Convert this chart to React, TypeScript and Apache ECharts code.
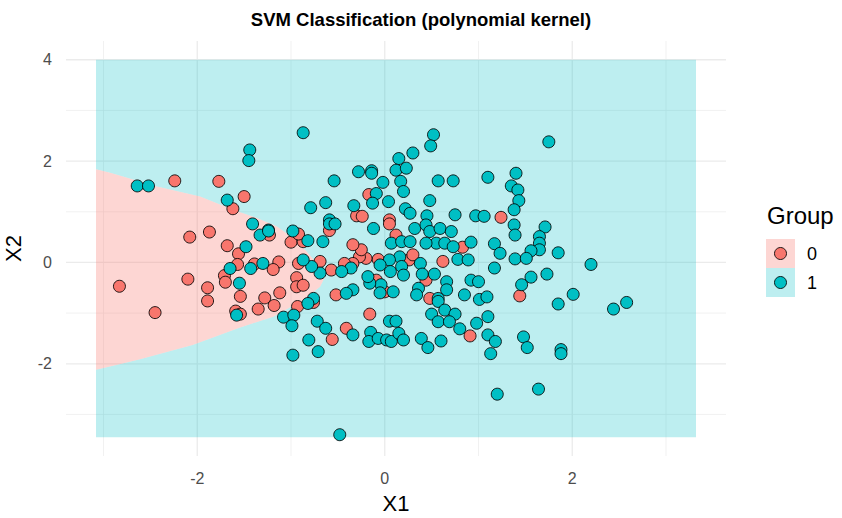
import React, { useEffect, useRef } from "react";
import * as echarts from "echarts";

const TITLE = "SVM Classification (polynomial kernel)";
const X_NAME = "X1";
const Y_NAME = "X2";
const LEGEND_TITLE = "Group";
const GROUPS = ["0", "1"];
const COLORS = ["#F8766D", "#00BFC4"];
const TILE_COLORS = ["rgba(248,118,109,0.3)", "rgba(0,191,196,0.26)"];

const X_LABELS = [-2, 0, 2];
const Y_LABELS = [-2, 0, 2, 4];
const X_MAJOR = [-2, 0, 2];
const X_MINOR = [-3, -1, 1, 3];
const Y_MAJOR = [-2, 0, 2, 4];
const Y_MINOR = [-3, -1, 1, 3];
const X_RANGE = [-3.4, 3.64];
const Y_RANGE = [-3.82, 4.37];

// prediction grid extent
const GRID_X = [-3.08, 3.32];
const GRID_Y = [-3.45, 4.0];

// class-0 region boundary (upper edge from left to tip, lower edge from tip back to left)
const UPPER_EDGE: number[][] = [
  [-3.08, 1.84], [-2.93, 1.77], [-2.43, 1.5], [-1.97, 1.3], [-1.62, 1.04],
  [-1.37, 0.88], [-1.15, 0.71], [-1.01, 0.52], [-0.85, 0.25], [-0.71, -0.05], [-0.64, -0.29],
];
const LOWER_EDGE: number[][] = [
  [-0.69, -0.48], [-0.87, -0.74], [-1.19, -1.07], [-1.55, -1.29], [-2.05, -1.63],
  [-2.61, -1.91], [-2.83, -2.01], [-3.08, -2.12],
];

const GROUP0: number[][] = [
  [-2.83, -0.47], [-2.45, -0.99], [-2.24, 1.61], [-1.77, 1.6], [-1.62, 1.06], [-1.5, 1.3],
  [-2.08, 0.5], [-1.87, 0.6], [-2.1, -0.33], [-1.89, -0.5], [-1.89, -0.76], [-1.68, 0.33],
  [-1.56, 0.17], [-1.57, -0.04], [-1.71, -0.26], [-1.7, -0.39], [-1.54, -0.67], [-1.59, -0.96],
  [-1.54, -1.02], [-1.23, 0.54], [-1.0, 0.4], [-0.87, 0.41], [-0.92, 0.56], [-1.39, -0.03],
  [-1.13, 0.01], [-1.19, -0.14], [-1.28, -0.7], [-1.12, -0.6], [-1.35, -0.92], [-1.18, -0.85],
  [-0.94, -0.3], [-0.94, -0.48], [-0.87, -0.45], [-0.93, -0.87], [-0.92, -0.02],
  [-0.17, 1.34], [-0.3, 0.92], [-0.24, 0.91], [0.05, 0.84], [-0.59, 0.63], [0.05, 0.76],
  [0.12, 0.54], [0.83, 0.3], [0.62, 0.02], [0.26, 0.05], [0.3, 0.15], [0.44, -0.35],
  [0.48, -0.71], [-0.09, -0.35], [0.0, -0.58], [-0.52, -0.64], [-0.07, 0.06], [-0.2, 0.08],
  [-0.27, 0.11], [-0.25, 0.25], [-0.34, 0.35], [-0.34, -0.02], [-0.43, -0.02], [-0.57, -0.15],
  [-0.69, 0.02], [-0.76, -0.79], [-0.56, -1.52], [-0.41, -1.3], [-0.16, -1.02], [0.91, -1.45],
  [1.24, 0.89], [1.44, -0.66],
];

const GROUP1: number[][] = [
  [-2.64, 1.51], [-2.52, 1.51], [-1.68, 1.23], [-1.44, 2.22], [-1.45, 2.01], [-1.41, 0.76],
  [-1.24, 0.64], [-0.98, 0.62], [-0.87, 2.56], [-1.48, 0.31], [-1.65, -0.12], [-1.55, -0.41],
  [-1.58, -1.04], [-1.33, 0.54], [-1.24, 0.62], [-1.43, -0.12], [-1.3, -0.02], [-1.08, -1.08],
  [-0.97, -1.04], [-0.99, -1.25], [0.52, 2.52], [0.49, 2.3], [0.3, 2.16], [0.15, 2.05],
  [0.12, 1.82], [0.23, 1.86], [-0.28, 1.79], [-0.14, 1.81], [-0.14, 1.76], [0.17, 1.6],
  [0.57, 1.61], [0.73, 1.61], [1.1, 1.68], [-0.54, 1.61], [-0.02, 1.58], [0.2, 1.4],
  [-0.09, 1.36], [-0.13, 1.17], [0.04, 1.2], [0.48, 1.22], [-0.79, 1.08], [-0.63, 1.18],
  [-0.33, 1.12], [0.22, 1.06], [0.27, 0.97], [0.45, 0.92], [0.75, 0.94], [0.97, 0.92],
  [1.06, 0.91], [-0.59, 0.84], [-0.82, 0.43], [-0.66, 0.41], [-0.59, 0.76], [-0.53, 0.76],
  [-0.12, 0.67], [0.07, 0.38], [0.18, 0.41], [0.27, 0.41], [0.32, 0.67], [0.44, 0.74],
  [0.48, 0.61], [0.59, 0.67], [0.71, 0.61], [0.55, 0.38], [0.44, 0.38], [0.64, 0.38],
  [0.73, 0.31], [0.92, 0.4], [0.78, 0.06], [0.89, 0.05], [0.38, -0.02], [0.16, 0.11],
  [0.05, 0.05], [-0.05, -0.05], [0.06, -0.18], [0.18, -0.08], [0.2, -0.25], [0.4, -0.23],
  [0.53, -0.23], [0.66, -0.38], [0.92, -0.35], [1.0, -0.38], [0.36, -0.51], [0.66, -0.54],
  [0.57, -0.71], [0.85, -0.64], [0.09, -0.58], [-0.04, -0.44], [-0.05, -0.6], [-0.16, -0.41],
  [-0.34, -0.54], [-0.41, -0.61], [-0.18, -0.28], [-0.36, -0.11], [-0.46, -0.18], [-0.69, -0.21],
  [-0.78, -0.08], [-0.87, 0.05], [-0.76, -0.71], [-0.98, -1.83], [-0.82, -0.81], [-0.72, -1.16],
  [-0.63, -1.3], [-0.81, -1.53], [-0.71, -1.76], [-0.34, -1.43], [-0.15, -1.38], [-0.17, -1.56],
  [-0.07, -1.5], [0.02, -1.53], [0.07, -1.56], [0.05, -1.16], [0.12, -1.16], [0.15, -1.4],
  [0.2, -1.53], [0.34, -0.64], [0.57, -0.77], [0.5, -1.02], [0.64, -0.94], [0.75, -1.02],
  [0.57, -1.17], [0.69, -1.17], [0.39, -1.5], [0.46, -1.68], [0.6, -1.55], [0.8, -1.31],
  [0.98, -1.2], [1.01, -0.73], [1.1, -1.07], [1.1, -1.43], [-0.48, -3.4], [1.75, 2.38],
  [1.4, 1.76], [1.35, 1.51], [1.42, 1.43], [1.43, 1.22], [1.38, 1.04], [1.38, 0.74],
  [1.71, 0.7], [1.39, 0.54], [1.65, 0.51], [1.65, 0.38], [1.65, 0.25], [1.56, 0.23],
  [1.17, 0.37], [1.23, 0.18], [1.39, 0.07], [1.51, 0.08], [1.85, 0.19], [2.2, -0.04],
  [1.17, -0.11], [1.56, -0.29], [1.73, -0.23], [1.46, -0.44], [1.09, -0.68], [2.01, -0.63],
  [1.85, -0.82], [2.58, -0.79], [2.44, -0.92], [1.18, -1.56], [1.13, -1.8], [1.48, -1.47],
  [1.52, -1.68], [1.88, -1.72], [1.88, -1.8], [1.2, -2.6], [1.64, -2.5],
];

const FONT = "Liberation Sans, Arial, Helvetica, sans-serif";

export default function App() {
  const ref = useRef<HTMLDivElement>(null);

  useEffect(() => {
    if (!ref.current) return;
    const chart = echarts.init(ref.current, null, { renderer: "svg" });

    const region0 = [...UPPER_EDGE, ...LOWER_EDGE];
    const region1 = [
      [GRID_X[0], GRID_Y[1]],
      [GRID_X[1], GRID_Y[1]],
      [GRID_X[1], GRID_Y[0]],
      [GRID_X[0], GRID_Y[0]],
      ...LOWER_EDGE.slice().reverse(),
      ...UPPER_EDGE.slice().reverse(),
    ];

    const gridSeries = (vals: number[], vertical: boolean, width: number) => ({
      type: "custom",
      silent: true,
      z: 0,
      data: vals.map((v) => (vertical ? [v, 0] : [0, v])),
      renderItem: (params: any, api: any) => {
        const v = api.value(vertical ? 0 : 1);
        const p1 = vertical ? api.coord([v, Y_RANGE[0]]) : api.coord([X_RANGE[0], v]);
        const p2 = vertical ? api.coord([v, Y_RANGE[1]]) : api.coord([X_RANGE[1], v]);
        return {
          type: "line",
          shape: { x1: p1[0], y1: p1[1], x2: p2[0], y2: p2[1] },
          style: { stroke: "#EBEBEB", lineWidth: width },
        };
      },
    });

    const regionSeries = (pts: number[][], color: string) => ({
      type: "custom",
      silent: true,
      z: 1,
      data: [[0, 0]],
      renderItem: (params: any, api: any) => ({
        type: "polygon",
        shape: { points: pts.map((p) => api.coord(p)) },
        style: { fill: color, stroke: null },
      }),
    });

    const pointSeries = (data: number[][], color: string, name: string) => ({
      type: "scatter",
      name,
      z: 3,
      data,
      symbol: "circle",
      symbolSize: 12,
      itemStyle: { color, borderColor: "rgba(0,0,0,0.85)", borderWidth: 1, opacity: 1 },
    });

    const legendX = 766;
    const keySize = 29;
    const legendTop = 239;

    chart.setOption({
      animation: false,
      backgroundColor: "#ffffff",
      title: {
        text: TITLE,
        left: "center",
        top: 5,
        textStyle: { fontFamily: FONT, fontSize: 18.5, fontWeight: "bold", color: "#000" },
      },
      grid: { left: 66, right: 116, top: 41, bottom: 62, outerBoundsMode: "none", containLabel: false },
      xAxis: {
        type: "value",
        min: X_RANGE[0],
        max: X_RANGE[1],
        axisLine: { show: false },
        axisTick: { show: false },
        splitLine: { show: false },
        axisLabel: {
          customValues: X_LABELS,
          color: "#4D4D4D",
          fontSize: 16,
          fontFamily: FONT,
          margin: 14,
        },
        name: X_NAME,
        nameLocation: "middle",
        nameGap: 36,
        nameTextStyle: { fontFamily: FONT, fontSize: 22, color: "#000" },
      },
      yAxis: {
        type: "value",
        min: Y_RANGE[0],
        max: Y_RANGE[1],
        axisLine: { show: false },
        axisTick: { show: false },
        splitLine: { show: false },
        axisLabel: {
          customValues: Y_LABELS,
          color: "#4D4D4D",
          fontSize: 16,
          fontFamily: FONT,
          margin: 14,
        },
        name: Y_NAME,
        nameLocation: "middle",
        nameGap: 42,
        nameRotate: 90,
        nameTextStyle: { fontFamily: FONT, fontSize: 22, color: "#000" },
      },
      series: [
        gridSeries(X_MINOR, true, 0.7),
        gridSeries(Y_MINOR, false, 0.7),
        gridSeries(X_MAJOR, true, 1.3),
        gridSeries(Y_MAJOR, false, 1.3),
        regionSeries(region1, TILE_COLORS[1]),
        regionSeries(region0, TILE_COLORS[0]),
        pointSeries(GROUP0, COLORS[0], GROUPS[0]),
        pointSeries(GROUP1, COLORS[1], GROUPS[1]),
      ],
      graphic: [
        {
          type: "text",
          x: legendX + 1,
          y: 215,
          style: {
            text: LEGEND_TITLE,
            fontFamily: FONT,
            fontSize: 24,
            fill: "#000",
            verticalAlign: "middle",
          },
        },
        ...GROUPS.flatMap((g, i) => [
          {
            type: "rect",
            shape: { x: legendX, y: legendTop + i * keySize, width: keySize, height: keySize },
            style: { fill: TILE_COLORS[i] },
          },
          {
            type: "circle",
            shape: { cx: legendX + keySize / 2, cy: legendTop + i * keySize + keySize / 2, r: 6 },
            style: { fill: COLORS[i], stroke: "rgba(0,0,0,0.85)", lineWidth: 1 },
          },
          {
            type: "text",
            x: legendX + keySize + 12,
            y: legendTop + i * keySize + keySize / 2,
            style: {
              text: g,
              fontFamily: FONT,
              fontSize: 18,
              fill: "#000",
              verticalAlign: "middle",
            },
          },
        ]),
      ],
    });

    return () => chart.dispose();
  }, []);

  return (
    <div
      ref={ref}
      style={{ position: "absolute", left: 0, top: 0, width: 842, height: 518 }}
    />
  );
}
